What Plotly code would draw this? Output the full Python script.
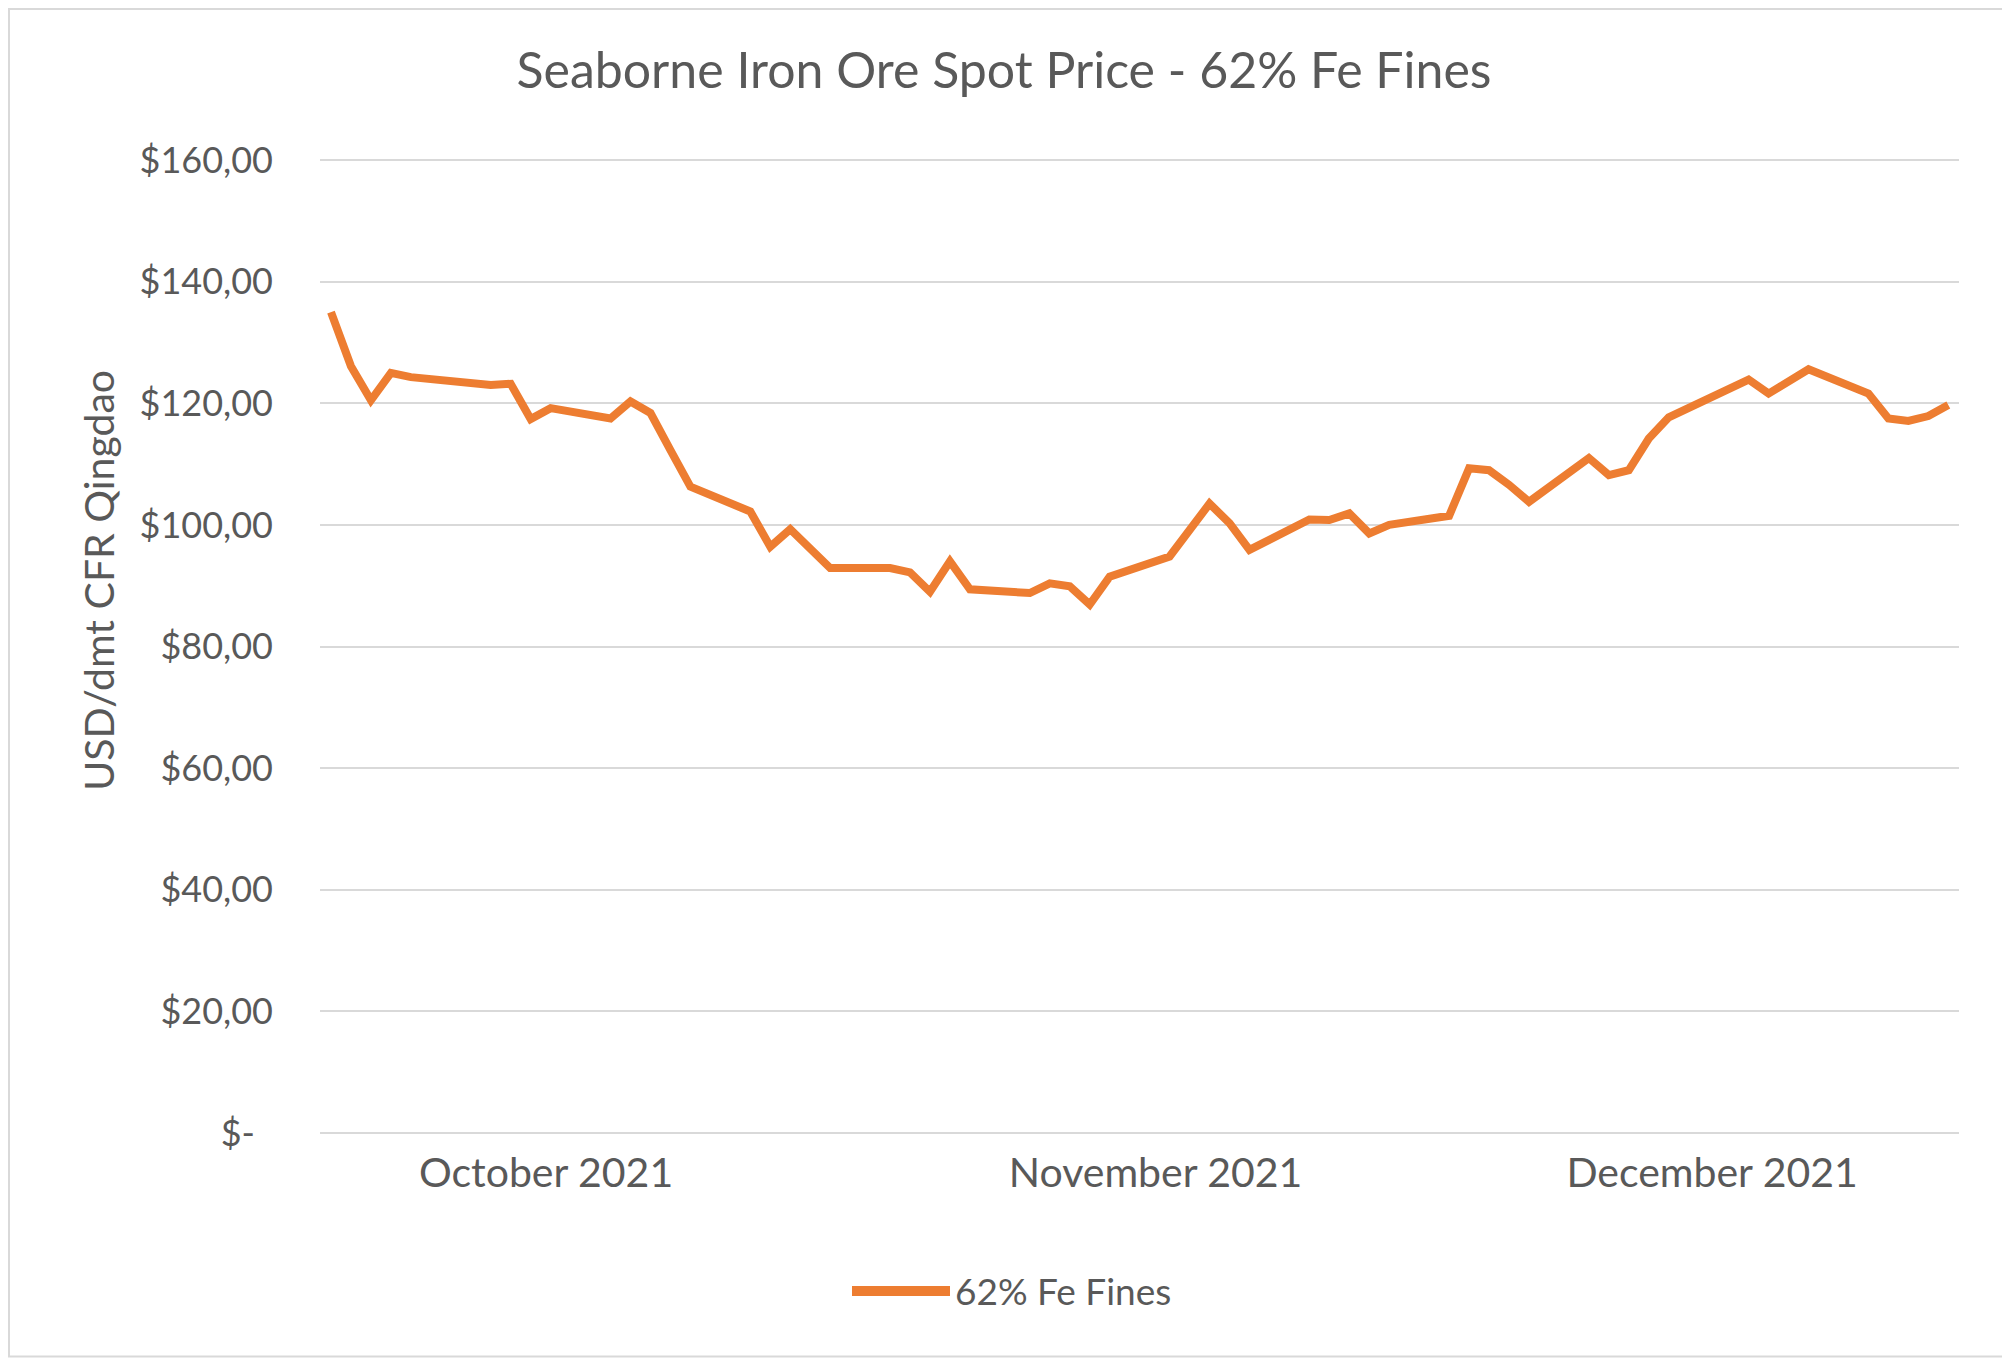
import plotly.graph_objects as go

# ---- data ----
dates = [
    "2021-10-11", "2021-10-12", "2021-10-13", "2021-10-14", "2021-10-15",
    "2021-10-18", "2021-10-19", "2021-10-20", "2021-10-21", "2021-10-22",
    "2021-10-25", "2021-10-26", "2021-10-27", "2021-10-28", "2021-10-29",
    "2021-11-01", "2021-11-02", "2021-11-03", "2021-11-05",
    "2021-11-08", "2021-11-09", "2021-11-10", "2021-11-11", "2021-11-12",
    "2021-11-15", "2021-11-16", "2021-11-17", "2021-11-18", "2021-11-19",
    "2021-11-22", "2021-11-23", "2021-11-24", "2021-11-25", "2021-11-26",
    "2021-11-29", "2021-11-30", "2021-12-01", "2021-12-02", "2021-12-03",
    "2021-12-06", "2021-12-07", "2021-12-08", "2021-12-09", "2021-12-10",
    "2021-12-13", "2021-12-14", "2021-12-15", "2021-12-16", "2021-12-17",
    "2021-12-20", "2021-12-21", "2021-12-22", "2021-12-24",
    "2021-12-27", "2021-12-28", "2021-12-29", "2021-12-30", "2021-12-31",
]
prices = [
    135.0, 126.1, 120.5, 125.0, 124.3,
    123.5, 123.0, 123.2, 117.4, 119.2,
    117.5, 120.3, 118.4, 112.3, 106.3,
    102.2, 96.4, 99.3, 92.9,
    92.9, 92.2, 89.0, 94.0, 89.4,
    88.8, 90.4, 89.9, 86.9, 91.5,
    94.8, 99.2, 103.5, 100.3, 95.9,
    100.9, 100.8, 101.9, 98.6, 100.0,
    101.5, 109.3, 109.0, 106.6, 103.8,
    111.0, 108.2, 109.0, 114.2, 117.7,
    122.2, 123.9, 121.6, 125.6,
    121.6, 117.5, 117.1, 117.9, 119.7,
]
series_name = "62% Fe Fines"

x_tick_vals = ["2021-10-21 18:28", "2021-11-21 07:12", "2021-12-19 04:05"]
x_tick_text = ["October 2021", "November 2021", "December 2021"]

y_tick_vals = [0, 20, 40, 60, 80, 100, 120, 140, 160]
y_tick_text = ["$-\u2002", "$20,00", "$40,00", "$60,00", "$80,00",
               "$100,00", "$120,00", "$140,00", "$160,00"]

title_text = "Seaborne Iron Ore Spot Price - 62% Fe Fines"
y_title_text = "USD/dmt CFR Qingdao"

# ---- styling ----
OFF = 8                      # page body margin
W, H = 2010 - OFF, 1360 - OFF
PLOT_L, PLOT_R = 320, 1959   # page px
PLOT_T, PLOT_B = 160, 1133.5
Y_TOP_EXTRA = 0.5            # extend range so the 160 gridline is drawn
px_per_unit = (PLOT_B - PLOT_T) / 160.0

L = PLOT_L - OFF
R = W - (PLOT_R - OFF)
B = H - (PLOT_B - OFF)
T = (PLOT_T - OFF) - Y_TOP_EXTRA * px_per_unit

FONT = "Lato"
GREY = "#595959"
GRID = "#D9D9D9"
ORANGE = "#ED7D31"

pw = W - L - R
ph = H - T - B


def px_x(x):
    return (x - OFF - L) / pw


def px_y(y):
    return (H - B - (y - OFF)) / ph


fig = go.Figure()
fig.add_trace(go.Scatter(
    x=dates, y=prices, mode="lines", name=series_name, showlegend=False,
    line=dict(color=ORANGE, width=8),
))
# legend entry (thicker swatch like the original)
fig.add_trace(go.Scatter(
    x=[None], y=[None], mode="lines", name=series_name, showlegend=True,
    line=dict(color=ORANGE, width=12), hoverinfo="skip",
))

fig.update_layout(
    width=W, height=H, autosize=False,
    margin=dict(l=L, r=R, t=T, b=B, pad=0),
    paper_bgcolor="white", plot_bgcolor="white",
    font=dict(family=FONT, color=GREY, size=40),
    title=dict(text=title_text, x=(1004 - OFF) / W, xref="container",
               xanchor="center", y=1 - (70.5 - OFF) / H, yanchor="middle",
               font=dict(family=FONT, size=50, color=GREY)),
    showlegend=True,
    legend=dict(orientation="h", x=px_x(1012), y=px_y(1292),
                xanchor="center", yanchor="middle",
                font=dict(family=FONT, size=37, color=GREY),
                itemwidth=98, bgcolor="rgba(0,0,0,0)"),
    xaxis=dict(type="date", range=["2021-10-10 10:47", "2021-12-31 12:52"],
               tickmode="array", tickvals=x_tick_vals, ticktext=x_tick_text,
               showgrid=False, zeroline=False, showline=False, ticks="",
               tickfont=dict(family=FONT, size=41, color=GREY),
               ticklabelstandoff=12),
    yaxis=dict(range=[0, 160 + Y_TOP_EXTRA], tickmode="array",
               tickvals=y_tick_vals, ticktext=y_tick_text,
               showgrid=True, gridcolor=GRID, gridwidth=1.8,
               zeroline=True, zerolinecolor=GRID, zerolinewidth=1.8,
               showline=False, ticks="",
               tickfont=dict(family=FONT, size=36, color=GREY),
               ticklabelstandoff=46),
    annotations=[dict(text=y_title_text, textangle=-90, xref="paper", yref="paper",
                      x=px_x(99), y=px_y(581), xanchor="center", yanchor="middle",
                      showarrow=False, font=dict(family=FONT, size=41, color=GREY))],
    shapes=[dict(type="rect", xref="paper", yref="paper",
                 x0=px_x(OFF + 1), x1=px_x(2007), y0=px_y(1357), y1=px_y(OFF + 1),
                 line=dict(color=GRID, width=2), fillcolor="rgba(0,0,0,0)",
                 layer="below")],
)

fig.write_html("out.html")
